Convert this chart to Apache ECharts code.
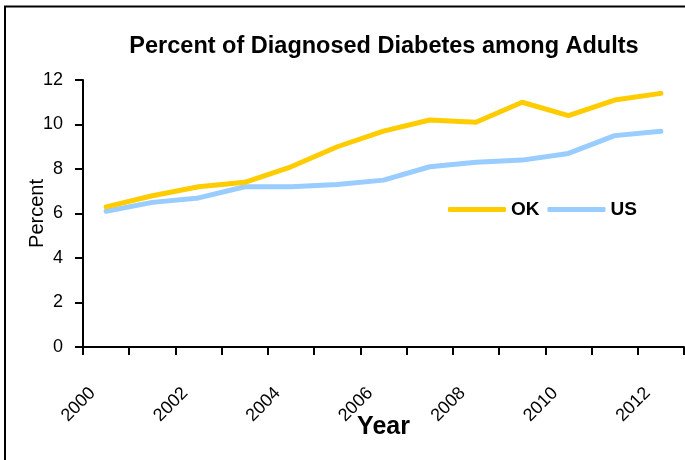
<!DOCTYPE html>
<html>
<head>
<meta charset="utf-8">
<script src="https://cdn.jsdelivr.net/npm/echarts@6/dist/echarts.min.js"></script>
<style>
html,body{margin:0;padding:0;background:#fff;}
#chart{width:685px;height:460px;}
</style>
</head>
<body>
<div id="chart"></div>
<script>
var years = ['2000','2001','2002','2003','2004','2005','2006','2007','2008','2009','2010','2011','2012'];
var okValues = [6.3, 6.8, 7.2, 7.4, 8.1, 9.0, 9.7, 10.2, 10.1, 11.0, 10.4, 11.1, 11.4];
var usValues = [6.1, 6.5, 6.7, 7.2, 7.2, 7.3, 7.5, 8.1, 8.3, 8.4, 8.7, 9.5, 9.7];
var seriesNames = ['OK', 'US'];
var titleText = 'Percent of Diagnosed Diabetes among Adults';

var font = '"Liberation Sans", Arial, sans-serif';
var chart = echarts.init(document.getElementById('chart'), null, {renderer: 'canvas'});
chart.setOption({
  animation: false,
  backgroundColor: '#fff',
  title: {
    text: titleText,
    left: 384,
    textAlign: 'center',
    top: 35,
    padding: 0,
    textStyle: {fontFamily: font, fontSize: 23.5, fontWeight: 'bold', color: '#000'}
  },
  legend: {
    data: seriesNames,
    left: 448,
    top: 200,
    padding: 0,
    icon: 'roundRect',
    itemWidth: 58,
    itemHeight: 5,
    itemGap: 8,
    textStyle: {fontFamily: font, fontSize: 19, fontWeight: 'bold', color: '#000'}
  },
  grid: {left: 83, right: 1, top: 80, bottom: 113, containLabel: false},
  xAxis: {
    type: 'category',
    data: years,
    boundaryGap: true,
    name: 'Year',
    nameLocation: 'middle',
    nameGap: 68,
    nameMoveOverlap: false,
    nameTextStyle: {fontFamily: font, fontSize: 25, fontWeight: 'bold', color: '#000'},
    axisLine: {show: true, lineStyle: {color: '#000', width: 2}},
    axisTick: {show: true, interval: 0, length: 8, lineStyle: {color: '#000', width: 2}},
    axisLabel: {
      interval: 1,
      rotate: 45,
      margin: 30,
      padding: [0, 19, 0, 0],
      fontFamily: font,
      fontSize: 18,
      color: '#000'
    },
    splitLine: {show: false}
  },
  yAxis: {
    type: 'value',
    min: 0,
    max: 12,
    interval: 2,
    name: 'Percent',
    nameLocation: 'middle',
    nameGap: 36,
    nameMoveOverlap: false,
    nameTextStyle: {fontFamily: font, fontSize: 20, color: '#000'},
    axisLine: {show: true, lineStyle: {color: '#000', width: 2}},
    axisTick: {show: true, length: 8, lineStyle: {color: '#000', width: 2}},
    axisLabel: {margin: 20, fontFamily: font, fontSize: 18, color: '#000'},
    splitLine: {show: false}
  },
  series: [
    {
      name: seriesNames[0],
      type: 'line',
      data: okValues,
      z: 3,
      symbol: 'none',
      color: '#FFCC00',
      lineStyle: {color: '#FFCC00', width: 5, cap: 'round', join: 'round'}
    },
    {
      name: seriesNames[1],
      type: 'line',
      data: usValues,
      z: 2,
      symbol: 'none',
      color: '#99CCFF',
      lineStyle: {color: '#99CCFF', width: 5, cap: 'round', join: 'round'}
    }
  ],
  graphic: [
    {
      type: 'rect',
      silent: true,
      shape: {x: 5, y: 6.5, width: 720, height: 520},
      style: {fill: 'none', stroke: '#000', lineWidth: 2}
    }
  ]
});
</script>
</body>
</html>
